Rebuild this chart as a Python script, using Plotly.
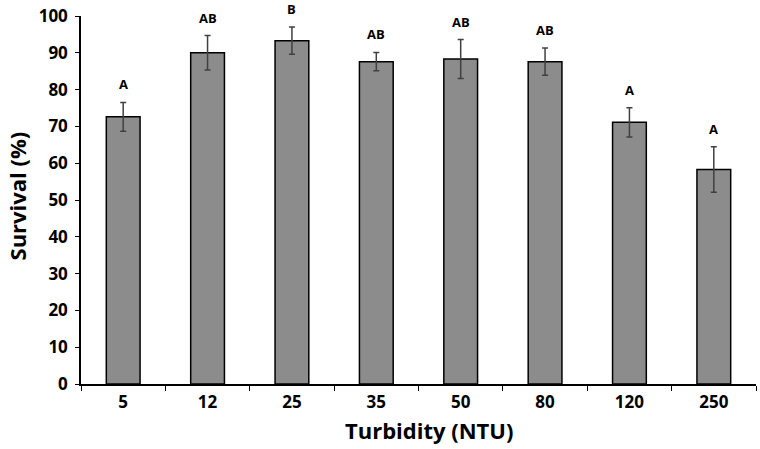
import plotly.graph_objects as go

categories = ["5", "12", "25", "35", "50", "80", "120", "250"]
survival = [72.6, 90.0, 93.3, 87.6, 88.3, 87.6, 71.1, 58.3]
errors = [3.9, 4.7, 3.7, 2.5, 5.3, 3.7, 4.0, 6.2]
letters = ["A", "AB", "B", "AB", "AB", "AB", "A", "A"]

FONT = "Open Sans"
pos = list(range(len(categories)))

fig = go.Figure()
fig.add_trace(go.Bar(
    x=pos, y=survival,
    width=0.4,
    marker=dict(color="#8c8c8c", line=dict(color="#000000", width=1.5)),
    error_y=dict(type="data", array=errors, visible=True,
                 color="#404040", thickness=1.5, width=3),
))

for p, v, e, t in zip(pos, survival, errors, letters):
    fig.add_annotation(x=p, y=v + e, text=t, showarrow=False,
                       yanchor="middle", yshift=18,
                       font=dict(family=FONT, size=13, color="black", weight="bold"))

# axis titles as annotations for precise placement
fig.add_annotation(xref="paper", yref="paper", x=0.5156, y=-0.125,
                   text="Turbidity (NTU)", showarrow=False,
                   xanchor="center", yanchor="middle",
                   font=dict(family=FONT, size=22, color="black", weight="bold"))
fig.add_annotation(xref="paper", yref="paper", x=-0.0955, y=0.511,
                   text="Survival (%)", showarrow=False, textangle=-90,
                   xanchor="center", yanchor="middle",
                   font=dict(family=FONT, size=22, color="black", weight="bold"))

fig.update_layout(
    width=760, height=449,
    margin=dict(l=81, r=4, t=16, b=65),
    plot_bgcolor="white", paper_bgcolor="white",
    showlegend=False,
    font=dict(family=FONT, color="black"),
)
fig.update_xaxes(
    range=[-0.5, len(categories) - 0.5],
    tickmode="array", tickvals=pos, ticktext=categories,
    showline=True, linecolor="black", linewidth=1.5,
    ticks="", ticklen=0, ticklabelstandoff=2,
    minor=dict(ticks="outside", tickmode="linear", tick0=-0.5, dtick=1,
               ticklen=5, tickcolor="black", tickwidth=1, showgrid=False),
    tickfont=dict(family=FONT, size=17, weight="bold"),
    showgrid=False, zeroline=False, automargin=False,
)
fig.update_yaxes(
    range=[0, 100], dtick=10,
    showline=True, linecolor="black", linewidth=1.5,
    ticks="outside", ticklen=4, tickcolor="black", tickwidth=1,
    ticklabelstandoff=4,
    tickfont=dict(family=FONT, size=17, weight="bold"),
    showgrid=False, zeroline=False, automargin=False,
)

# remove the browser's default 8px page margin so the figure sits at the window origin
fig.write_html("out.html", config={"displayModeBar": False},
               post_script="document.body.style.margin='0';")
